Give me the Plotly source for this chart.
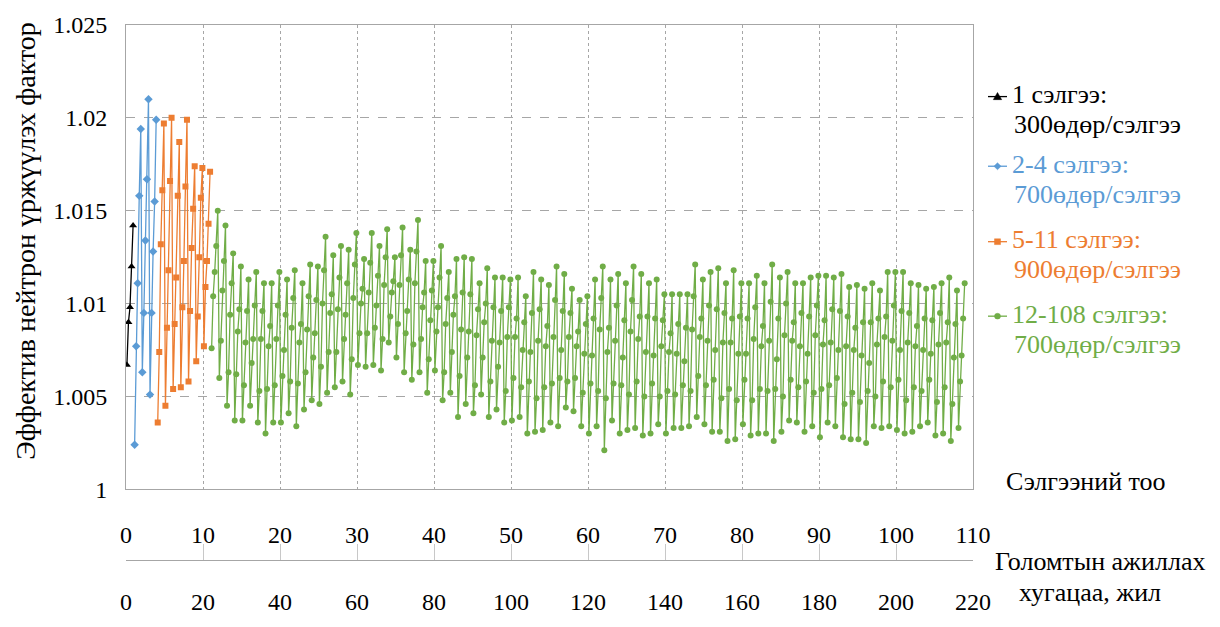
import plotly.graph_objects as go

# ---------------- data ----------------
# position of the 5 burn-up steps inside one cycle (fraction of a cycle)
STEP_FRAC = [0.12, 0.32, 0.52, 0.72, 0.92]

black_cycles = [1]
black_keff = [
    [1.0067, 1.0090, 1.0098, 1.0120, 1.0142],
]

blue_cycles = [2, 3, 4]
blue_keff = [
    [1.0024, 1.0077, 1.0111, 1.0158, 1.0194],
    [1.0063, 1.0095, 1.0134, 1.0167, 1.0210],
    [1.0051, 1.0095, 1.0128, 1.0155, 1.0199],
]

orange_cycles = [5, 6, 7, 8, 9, 10, 11]
orange_keff = [
    [1.0036, 1.0074, 1.0132, 1.0161, 1.0197],
    [1.0045, 1.0087, 1.0118, 1.0166, 1.0200],
    [1.0054, 1.0089, 1.0114, 1.0158, 1.0187],
    [1.0055, 1.0098, 1.0123, 1.0163, 1.0199],
    [1.0058, 1.0096, 1.0130, 1.0151, 1.0174],
    [1.0069, 1.0093, 1.0125, 1.0157, 1.0173],
    [1.0077, 1.0109, 1.0123, 1.0143, 1.0171],
]

green_keff = [
    [1.0076, 1.0104, 1.0117, 1.0131, 1.0150],
    [1.0060, 1.0080, 1.0107, 1.0123, 1.0142],
    [1.0045, 1.0063, 1.0094, 1.0111, 1.0127],
    [1.0037, 1.0062, 1.0085, 1.0097, 1.0120],
    [1.0037, 1.0056, 1.0079, 1.0096, 1.0113],
    [1.0045, 1.0068, 1.0081, 1.0099, 1.0117],
    [1.0036, 1.0053, 1.0081, 1.0096, 1.0111],
    [1.0030, 1.0054, 1.0077, 1.0088, 1.0111],
    [1.0036, 1.0056, 1.0081, 1.0099, 1.0117],
    [1.0036, 1.0061, 1.0075, 1.0094, 1.0113],
    [1.0041, 1.0058, 1.0087, 1.0103, 1.0118],
    [1.0034, 1.0057, 1.0079, 1.0089, 1.0111],
    [1.0043, 1.0063, 1.0086, 1.0104, 1.0121],
    [1.0048, 1.0071, 1.0084, 1.0102, 1.0120],
    [1.0046, 1.0066, 1.0100, 1.0118, 1.0136],
    [1.0052, 1.0074, 1.0095, 1.0105, 1.0126],
    [1.0055, 1.0074, 1.0097, 1.0114, 1.0131],
    [1.0058, 1.0081, 1.0094, 1.0111, 1.0129],
    [1.0051, 1.0070, 1.0103, 1.0121, 1.0138],
    [1.0067, 1.0084, 1.0100, 1.0108, 1.0124],
    [1.0066, 1.0084, 1.0106, 1.0122, 1.0138],
    [1.0067, 1.0087, 1.0099, 1.0115, 1.0131],
    [1.0064, 1.0081, 1.0110, 1.0125, 1.0140],
    [1.0079, 1.0093, 1.0106, 1.0112, 1.0125],
    [1.0071, 1.0089, 1.0110, 1.0126, 1.0141],
    [1.0063, 1.0084, 1.0096, 1.0113, 1.0129],
    [1.0059, 1.0078, 1.0111, 1.0128, 1.0145],
    [1.0063, 1.0081, 1.0098, 1.0106, 1.0123],
    [1.0052, 1.0070, 1.0091, 1.0107, 1.0123],
    [1.0064, 1.0085, 1.0098, 1.0114, 1.0131],
    [1.0048, 1.0063, 1.0089, 1.0103, 1.0117],
    [1.0052, 1.0074, 1.0094, 1.0104, 1.0124],
    [1.0039, 1.0061, 1.0086, 1.0106, 1.0125],
    [1.0046, 1.0071, 1.0085, 1.0105, 1.0124],
    [1.0041, 1.0056, 1.0083, 1.0097, 1.0111],
    [1.0051, 1.0071, 1.0090, 1.0100, 1.0119],
    [1.0039, 1.0058, 1.0080, 1.0098, 1.0114],
    [1.0043, 1.0066, 1.0079, 1.0096, 1.0114],
    [1.0036, 1.0053, 1.0082, 1.0098, 1.0113],
    [1.0037, 1.0060, 1.0082, 1.0092, 1.0114],
    [1.0039, 1.0055, 1.0075, 1.0090, 1.0104],
    [1.0030, 1.0058, 1.0074, 1.0095, 1.0117],
    [1.0031, 1.0049, 1.0080, 1.0097, 1.0113],
    [1.0032, 1.0055, 1.0077, 1.0088, 1.0110],
    [1.0036, 1.0057, 1.0082, 1.0102, 1.0120],
    [1.0034, 1.0060, 1.0075, 1.0096, 1.0116],
    [1.0044, 1.0058, 1.0082, 1.0095, 1.0108],
    [1.0042, 1.0060, 1.0077, 1.0085, 1.0102],
    [1.0034, 1.0052, 1.0073, 1.0089, 1.0104],
    [1.0030, 1.0057, 1.0072, 1.0092, 1.0113],
    [1.0034, 1.0053, 1.0086, 1.0103, 1.0120],
    [1.0021, 1.0049, 1.0074, 1.0087, 1.0113],
    [1.0037, 1.0057, 1.0080, 1.0099, 1.0116],
    [1.0030, 1.0056, 1.0071, 1.0091, 1.0111],
    [1.0032, 1.0051, 1.0085, 1.0102, 1.0120],
    [1.0033, 1.0058, 1.0081, 1.0093, 1.0116],
    [1.0029, 1.0050, 1.0074, 1.0093, 1.0111],
    [1.0030, 1.0057, 1.0072, 1.0092, 1.0113],
    [1.0035, 1.0050, 1.0077, 1.0091, 1.0105],
    [1.0030, 1.0053, 1.0074, 1.0084, 1.0105],
    [1.0033, 1.0051, 1.0073, 1.0089, 1.0105],
    [1.0033, 1.0056, 1.0069, 1.0087, 1.0105],
    [1.0034, 1.0053, 1.0086, 1.0104, 1.0121],
    [1.0039, 1.0061, 1.0082, 1.0092, 1.0113],
    [1.0035, 1.0056, 1.0080, 1.0099, 1.0117],
    [1.0031, 1.0059, 1.0075, 1.0097, 1.0119],
    [1.0031, 1.0049, 1.0079, 1.0095, 1.0111],
    [1.0026, 1.0054, 1.0079, 1.0092, 1.0118],
    [1.0027, 1.0048, 1.0073, 1.0093, 1.0111],
    [1.0035, 1.0059, 1.0073, 1.0092, 1.0111],
    [1.0029, 1.0048, 1.0081, 1.0098, 1.0115],
    [1.0030, 1.0054, 1.0077, 1.0088, 1.0111],
    [1.0030, 1.0053, 1.0080, 1.0101, 1.0121],
    [1.0026, 1.0054, 1.0070, 1.0092, 1.0114],
    [1.0031, 1.0050, 1.0083, 1.0100, 1.0117],
    [1.0037, 1.0059, 1.0080, 1.0090, 1.0111],
    [1.0036, 1.0055, 1.0077, 1.0095, 1.0111],
    [1.0031, 1.0058, 1.0073, 1.0093, 1.0114],
    [1.0034, 1.0052, 1.0083, 1.0099, 1.0115],
    [1.0028, 1.0054, 1.0078, 1.0091, 1.0115],
    [1.0036, 1.0056, 1.0079, 1.0097, 1.0114],
    [1.0034, 1.0060, 1.0075, 1.0096, 1.0116],
    [1.0028, 1.0046, 1.0077, 1.0093, 1.0109],
    [1.0027, 1.0052, 1.0075, 1.0087, 1.0110],
    [1.0027, 1.0047, 1.0072, 1.0090, 1.0108],
    [1.0025, 1.0053, 1.0068, 1.0090, 1.0111],
    [1.0034, 1.0050, 1.0078, 1.0092, 1.0107],
    [1.0033, 1.0058, 1.0082, 1.0093, 1.0117],
    [1.0034, 1.0055, 1.0080, 1.0099, 1.0117],
    [1.0032, 1.0059, 1.0075, 1.0096, 1.0117],
    [1.0030, 1.0048, 1.0079, 1.0095, 1.0111],
    [1.0031, 1.0055, 1.0077, 1.0088, 1.0110],
    [1.0034, 1.0053, 1.0075, 1.0092, 1.0108],
    [1.0036, 1.0059, 1.0073, 1.0091, 1.0109],
    [1.0029, 1.0047, 1.0078, 1.0095, 1.0111],
    [1.0030, 1.0055, 1.0079, 1.0090, 1.0114],
    [1.0026, 1.0046, 1.0071, 1.0089, 1.0107],
    [1.0033, 1.0058, 1.0072, 1.0092, 1.0111],
]
green_cycles = list(range(12, 12 + len(green_keff)))

cycle_ticks = list(range(0, 111, 10))
year_ticks = list(range(0, 221, 20))
keff_ticks = [1.0, 1.005, 1.01, 1.015, 1.02, 1.025]

legend_line1 = ["1 сэлгээ:", "2-4 сэлгээ:", "5-11 сэлгээ:", "12-108 сэлгээ:"]
legend_line2 = ["300өдөр/сэлгээ", "700өдөр/сэлгээ", "900өдөр/сэлгээ", "700өдөр/сэлгээ"]

# ---------------- styling ----------------
FONT = "Liberation Serif"
COLORS = ["#000000", "#5b9bd5", "#ed7d31", "#70ad47"]
SYMBOLS = ["triangle-up", "diamond", "square", "circle"]
MSIZES = [7, 6.5, 6, 6]
GRID = "#a6a6a6"

W, H = 1220, 627
ML, MR, MT, MB = 126, 247, 25, 20
PW = W - ML - MR
PH = H - MT - MB


def px_x(px):
    return (px - ML) / PW


def px_y(py):
    return (H - MB - py) / PH


def flatten(cycles, rows):
    xs, ys = [], []
    for c, row in zip(cycles, rows):
        for f, v in zip(STEP_FRAC, row):
            xs.append(c - 1 + f)
            ys.append(v)
    return xs, ys


fig = go.Figure()
all_series = [
    (black_cycles, black_keff),
    (blue_cycles, blue_keff),
    (orange_cycles, orange_keff),
    (green_cycles, green_keff),
]
for i, (cyc, rows) in enumerate(all_series):
    xs, ys = flatten(cyc, rows)
    fig.add_trace(go.Scatter(
        x=xs, y=ys, mode="lines+markers",
        name=f"{legend_line1[i]} {legend_line2[i]}",
        line=dict(color=COLORS[i], width=1.3),
        marker=dict(symbol=SYMBOLS[i], size=MSIZES[i], color=COLORS[i]),
        showlegend=False,
    ))

# invisible trace so the year axis is drawn
fig.add_trace(go.Scatter(x=[0, 220], y=[1.0, 1.0], xaxis="x2", yaxis="y",
                         mode="markers", marker=dict(opacity=0), showlegend=False,
                         hoverinfo="skip"))

fig.update_layout(
    width=W, height=H,
    margin=dict(l=ML, r=MR, t=MT, b=MB, pad=0),
    paper_bgcolor="white", plot_bgcolor="white",
    font=dict(family=FONT, size=24, color="#000000"),
    showlegend=False,
    xaxis=dict(
        range=[0, 110], tickvals=cycle_ticks, ticktext=[str(t) for t in cycle_ticks],
        showgrid=True, gridcolor=GRID, griddash="dot", gridwidth=1,
        showline=True, mirror=True, linecolor=GRID, linewidth=1,
        ticks="", zeroline=False, ticklabelstandoff=24,
        tickfont=dict(family=FONT, size=24, color="#000000"),
    ),
    yaxis=dict(
        range=[1.0, 1.025], domain=[px_y(505), 1],
        tickvals=keff_ticks, ticktext=[f"{v:g}" for v in keff_ticks],
        showgrid=True, gridcolor=GRID, griddash="dash", gridwidth=1,
        showline=True, mirror=True, linecolor=GRID, linewidth=1,
        ticks="", zeroline=False, ticklabelstandoff=13,
        tickfont=dict(family=FONT, size=24, color="#000000"),
    ),
    xaxis2=dict(
        overlaying="x", anchor="free", position=px_y(578), side="bottom",
        range=[0, 220], tickvals=year_ticks, ticktext=[str(t) for t in year_ticks],
        showgrid=False, zeroline=False,
        showline=True, linecolor=GRID, linewidth=1,
        ticks="inside", ticklen=16, tickcolor="#c8c8c8", tickwidth=1,
        ticklabelstandoff=20,
        tickfont=dict(family=FONT, size=24, color="#000000"),
    ),
)

# axis titles / side labels
annos = [
    dict(text="Эффектив нейтрон үржүүлэх фактор", x=px_x(26), y=px_y(248),
         textangle=-90, size=28, color="#000000", xanchor="center"),
    dict(text="Сэлгээний тоо", x=px_x(1086), y=px_y(497), textangle=0, size=26,
         color="#000000", xanchor="center"),
    dict(text="Голомтын ажиллах", x=px_x(1100), y=px_y(580), textangle=0, size=26,
         color="#000000", xanchor="center"),
    dict(text="хугацаа, жил", x=px_x(1090), y=px_y(612), textangle=0, size=26,
         color="#000000", xanchor="center"),
]

# legend (drawn manually so every entry keeps its own text colour)
LEG_ROW1 = [97, 169, 247, 324]
LEG_GAP = 31
LEG_TEXT_X = 1010
for i in range(4):
    annos.append(dict(text=legend_line1[i], x=px_x(LEG_TEXT_X), y=px_y(LEG_ROW1[i]),
                      textangle=0, size=26, color=COLORS[i], xanchor="left"))
    annos.append(dict(text=legend_line2[i], x=px_x(LEG_TEXT_X + 2), y=px_y(LEG_ROW1[i] + LEG_GAP),
                      textangle=0, size=26, color=COLORS[i], xanchor="left"))

for a in annos:
    fig.add_annotation(
        text=a["text"], x=a["x"], y=a["y"], xref="paper", yref="paper",
        xanchor=a["xanchor"], yanchor="middle", showarrow=False,
        textangle=a["textangle"], font=dict(family=FONT, size=a["size"], color=a["color"]),
    )

# legend symbols
ICON_X0, ICON_X1 = 988, 1007
for i in range(4):
    cy = LEG_ROW1[i] + 2
    cx = (ICON_X0 + ICON_X1) / 2
    c = COLORS[i]
    fig.add_shape(type="line", xref="paper", yref="paper",
                  x0=px_x(ICON_X0), x1=px_x(ICON_X1), y0=px_y(cy), y1=px_y(cy),
                  line=dict(color=c, width=1.3))
    s = MSIZES[i]
    if SYMBOLS[i] == "triangle-up":
        pts = [(cx, cy - 0.6 * s), (cx - 0.6 * s, cy + 0.45 * s), (cx + 0.6 * s, cy + 0.45 * s)]
    elif SYMBOLS[i] == "diamond":
        pts = [(cx, cy - 0.55 * s), (cx + 0.55 * s, cy), (cx, cy + 0.55 * s), (cx - 0.55 * s, cy)]
    elif SYMBOLS[i] == "square":
        pts = [(cx - s / 2, cy - s / 2), (cx + s / 2, cy - s / 2), (cx + s / 2, cy + s / 2), (cx - s / 2, cy + s / 2)]
    else:
        pts = None
    if pts:
        path = "M" + " L".join(f"{px_x(px):.5f},{px_y(py):.5f}" for px, py in pts) + " Z"
        fig.add_shape(type="path", xref="paper", yref="paper", path=path,
                      fillcolor=c, line=dict(color=c, width=0.5))
    else:
        fig.add_shape(type="circle", xref="paper", yref="paper",
                      x0=px_x(cx - s / 2), x1=px_x(cx + s / 2),
                      y0=px_y(cy + s / 2), y1=px_y(cy - s / 2),
                      fillcolor=c, line=dict(color=c, width=0.5))

fig.write_html("out.html")
